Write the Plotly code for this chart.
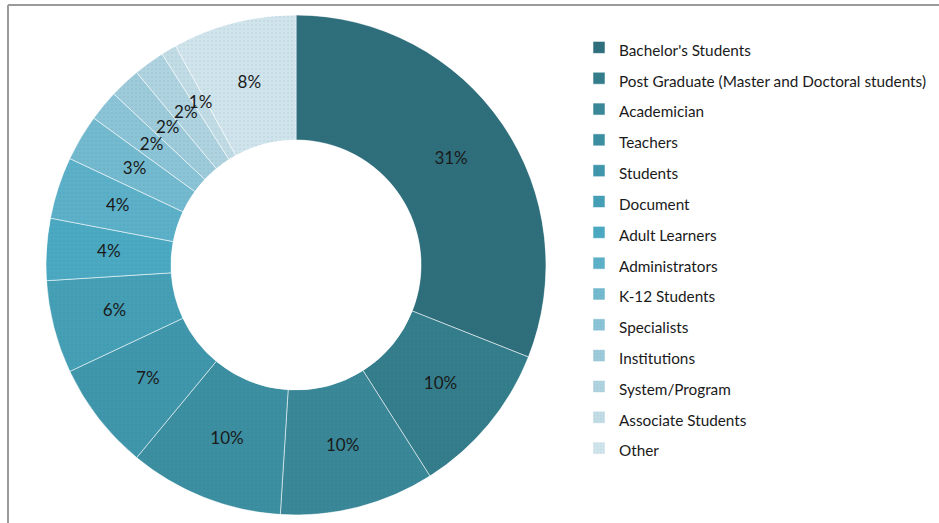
import plotly.graph_objects as go

categories = [
    "Bachelor's Students",
    "Post Graduate (Master and Doctoral students)",
    "Academician",
    "Teachers",
    "Students",
    "Document",
    "Adult Learners",
    "Administrators",
    "K-12 Students",
    "Specialists",
    "Institutions",
    "System/Program",
    "Associate Students",
    "Other",
]
shares = [31, 10, 10, 10, 7, 6, 4, 4, 3, 2, 2, 2, 1, 8]
colors = [
    "#2F6F7C", "#347D8B", "#398797", "#3C8FA0", "#4097AB", "#45A0B6", "#4BA9C2",
    "#5CB1C9", "#74BACF", "#8BC4D6", "#9DCBDA", "#AFD3DF", "#C1DCE5", "#CFE4EB",
]

W, H = 939, 523
cx, cy, rad = 296, 265, 250

# slice centres/widths in degrees, derived from the shares
total = sum(shares)
widths = [s / total * 360 for s in shares]
mids = []
acc = 0
for w in widths:
    mids.append(acc + w / 2)
    acc += w

fig = go.Figure()
for name, val, th, w, col in zip(categories, shares, mids, widths, colors):
    fig.add_trace(go.Barpolar(
        r=[1], theta=[th], width=[w], base=0,
        # big legend font sets ~31px row height, the span keeps the visible text small
        name=f"<span style='font-size:15.3px'>{name}</span>",
        marker=dict(
            color=col,
            line=dict(color="rgba(255,255,255,0.55)", width=1),
            pattern=dict(shape=".", size=4, solidity=0.1,
                         fgcolor="rgba(25,55,115,0.28)", fillmode="overlay"),
        ),
        hovertemplate=f"<b>{name}</b><br>{val}%<extra></extra>",
    ))

fig.add_trace(go.Scatterpolar(
    r=[0.5] * len(shares), theta=mids, mode="text",
    text=[f"{v}%" for v in shares],
    textfont=dict(family="Lato", size=17, color="#1a1a1a"),
    showlegend=False, hoverinfo="skip",
))

fig.update_layout(
    width=W, height=H,
    paper_bgcolor="white",
    margin=dict(l=0, r=0, t=0, b=0),
    font=dict(family="Lato", color="#1a1a1a"),
    polar=dict(
        domain=dict(x=[(cx - rad) / W, (cx + rad) / W],
                    y=[(H - cy - rad) / H, (H - cy + rad) / H]),
        hole=0.5,
        bgcolor="rgba(0,0,0,0)",
        bargap=0,
        radialaxis=dict(range=[0, 1], visible=False, showgrid=False),
        angularaxis=dict(rotation=90, direction="clockwise", visible=False, showgrid=False),
    ),
    legend=dict(
        x=579 / W, y=1 - 27 / H, xanchor="left", yanchor="top",
        font=dict(family="Lato", size=21.4, color="#1a1a1a"),
        bgcolor="rgba(0,0,0,0)",
        itemclick=False, itemdoubleclick=False,
    ),
    shapes=[
        dict(type="line", xref="paper", yref="paper", x0=8 / W, x1=1, y0=1 - 5 / H, y1=1 - 5 / H,
             line=dict(color="#9a9a9a", width=2)),
        dict(type="line", xref="paper", yref="paper", x0=8 / W, x1=8 / W, y0=0, y1=1 - 5 / H,
             line=dict(color="#9a9a9a", width=2)),
    ],
)

fig.write_html("out.html", config={"displayModeBar": False},
               post_script="document.body.style.margin='0';")
